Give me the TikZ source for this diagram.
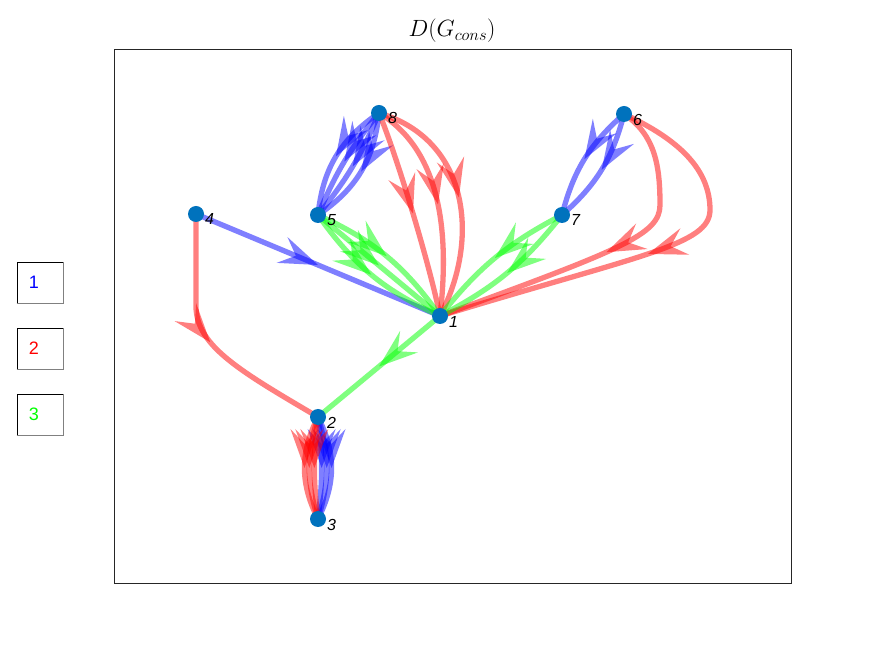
\RequirePackage{fix-cm}
\documentclass[tikz,border=0pt]{standalone}
\usepackage{fontspec}
\setmainfont{Liberation Sans}
\usetikzlibrary{decorations.markings,calc}
\pgfdeclarelayer{bg}
\pgfsetlayers{bg,main}
\definecolor{nodeblue}{rgb}{0,0.447,0.741}
\begin{document}
\begin{tikzpicture}[x=1pt,y=1pt,
  vtx/.style={circle,fill=nodeblue,draw=none,minimum size=16pt,inner sep=0pt},
  lbl/.style={inner sep=0pt,font=\fontsize{16}{19}\selectfont\itshape},
  marrow/.style={postaction={decorate,decoration={markings,mark=at position 0.5 with {\fill[#1,fill opacity=0.5] (0pt,0pt) -- (-39pt,14pt) -- (-24pt,0pt) -- (-39pt,-14pt) -- cycle;}}}},
  ed/.style={line width=5.3pt,draw=#1,draw opacity=0.5,marrow=#1},
  axisbox/.style={draw=black!85,line width=0.9pt},
  legbox/.style={draw=black,line width=0.9pt,minimum width=46pt,minimum height=41pt,inner sep=0pt},
  legtxt/.style={inner sep=0pt,font=\fontsize{18}{21}\selectfont}
]
\useasboundingbox (0,0) rectangle (875,656);

% axes box and title
\draw[axisbox] (114,73) rectangle (791,607);
\node[anchor=base,inner sep=0pt,font=\fontsize{23.5}{27}\selectfont] (title) at (452,619) {$D(G_{cons})$};

% vertices
\node[vtx] (n1) at (440,340) {};
\node[vtx] (n2) at (318,239) {};
\node[vtx] (n3) at (318,137) {};
\node[vtx] (n4) at (196,442) {};
\node[vtx] (n5) at (318,441) {};
\node[vtx] (n6) at (624,542) {};
\node[vtx] (n7) at (562,441) {};
\node[vtx] (n8) at (379,543) {};

% vertex labels
\node[lbl] (l1) at (453.5,334.5) {1};
\node[lbl] (l2) at (331.5,233.5) {2};
\node[lbl] (l3) at (331.5,131.5) {3};
\node[lbl] (l4) at (209.5,436.5) {4};
\node[lbl] (l5) at (331.5,435.5) {5};
\node[lbl] (l6) at (637.5,536.5) {6};
\node[lbl] (l7) at (575.5,435.5) {7};
\node[lbl] (l8) at (392.5,537.5) {8};

\begin{pgfonlayer}{bg}
\fill[white] (0,0) rectangle (875,656);
% blue edges
\draw[ed=blue] (n4.center) -- (n1.center);
\draw[ed=blue] (n8.center) to[bend left=8] (n5.center);
\draw[ed=blue] (n8.center) to[bend right=8] (n5.center);
\draw[ed=blue] (n8.center) to[bend left=25] (n5.center);
\draw[ed=blue] (n8.center) to[bend right=25] (n5.center);
\draw[ed=blue] (n6.center) to[bend left=17] (n7.center);
\draw[ed=blue] (n6.center) to[bend right=17] (n7.center);
\draw[ed=blue] (n2.center) to[bend left=7] (n3.center);
\draw[ed=blue] (n2.center) to[bend left=17] (n3.center);
\draw[ed=blue] (n2.center) to[bend left=27] (n3.center);
% red edges
\draw[ed=red] (n2.center) to[bend right=7] (n3.center);
\draw[ed=red] (n2.center) to[bend right=17] (n3.center);
\draw[ed=red] (n2.center) to[bend right=27] (n3.center);
\draw[ed=red] (n8.center) .. controls (397,500) and (430,390) .. (n1.center);
\draw[ed=red] (n8.center) .. controls (440,506) and (450,426) .. (n1.center);
\draw[ed=red] (n8.center) .. controls (470,516) and (480,416) .. (n1.center);
\draw[ed=red] (n4.center) -- (196,350) .. controls (196,310) and (240,285) .. (n2.center);
\draw[ed=red] (n6.center) .. controls (655,521) and (660,491) .. (660,451) .. controls (660,421) and (620,406) .. (n1.center);
\draw[ed=red] (n6.center) .. controls (680,516) and (710,486) .. (710,446) .. controls (710,411) and (640,401) .. (n1.center);
% green edges
\draw[ed=green] (n5.center) to[bend left=15] (n1.center);
\draw[ed=green] (n5.center) -- (n1.center);
\draw[ed=green] (n5.center) to[bend right=15] (n1.center);
\draw[ed=green] (n7.center) to[bend left=12] (n1.center);
\draw[ed=green] (n7.center) to[bend right=12] (n1.center);
\draw[ed=green] (n1.center) -- (n2.center);
\end{pgfonlayer}

% legend
\node[legbox] (lg1) at (40,373.5) {};
\node[legbox] (lg2) at (40,307.5) {};
\node[legbox] (lg3) at (40,241.5) {};
\foreach \b in {lg1,lg2,lg3}{
  \draw[gray,line width=1.2pt] (\b.south west) -- (\b.south east) -- (\b.north east);
}
\node[legtxt,text=blue] (t1) at (34,373.5) {1};
\node[legtxt,text=red] (t2) at (34,307.5) {2};
\node[legtxt,text=green] (t3) at (34,241.5) {3};
\end{tikzpicture}
\end{document}
